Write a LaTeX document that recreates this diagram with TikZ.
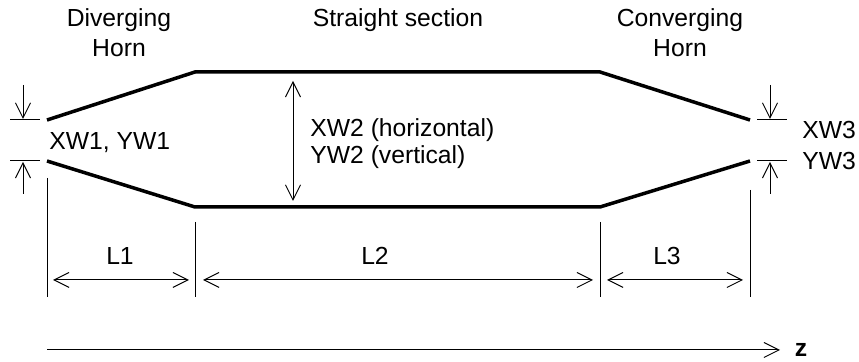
\documentclass[tikz,border=0pt]{standalone}
\usepackage{fontspec}
\setmainfont{Liberation Sans}
\usetikzlibrary{arrows.meta}
\tikzset{
  horn/.style={line width=1.75pt},
  thin/.style={line width=0.5pt},
  barb/.tip={Straight Barb[length=7.5pt,width=7.5pt]},
  dim/.style={thin, barb-barb},
  pointer/.style={thin, -barb},
  lbl/.style={inner sep=0pt, anchor=base, font=\fontsize{12.35}{14}\selectfont},
}
\begin{document}
\begin{tikzpicture}[x=0.5pt,y=-0.5pt]
    \useasboundingbox (0,0) rectangle (859,362);

    % walls of the chamber
    \coordinate (t0) at ( 47,120);
    \coordinate (t1) at (195, 72);
    \coordinate (t2) at (600, 72);
    \coordinate (t3) at (750,120);
    \coordinate (b0) at ( 47,161);
    \coordinate (b1) at (195,207);
    \coordinate (b2) at (600,207);
    \coordinate (b3) at (750,161);
    \draw[horn] (t0) -- (t1) -- (t2) -- (t3);
    \draw[horn] (b0) -- (b1) -- (b2) -- (b3);

    % section headings
    \node[lbl] (div)   at (119, 27) {Diverging};
    \node[lbl] (divb)  at (119, 57) {Horn};
    \node[lbl] (str)   at (398, 27) {Straight section};
    \node[lbl] (conv)  at (680, 27) {Converging};
    \node[lbl] (convb) at (680, 57) {Horn};

    % entrance width
    \draw[thin] (10,120) -- (40,120);
    \draw[thin] (10,161) -- (40,161);
    \coordinate (w1a) at (23, 85);
    \coordinate (w1b) at (23,194);
    \draw[pointer] (w1a) -- (23,119);
    \draw[pointer] (w1b) -- (23,162);
    \node[lbl, anchor=base west] (w1) at (49,150) {XW1, YW1};

    % straight width
    \coordinate (w2a) at (293, 81);
    \coordinate (w2b) at (293,201);
    \draw[dim] (w2a) -- (w2b);
    \node[lbl, anchor=base west] (w2)  at (310,137) {XW2 (horizontal)};
    \node[lbl, anchor=base west] (w2v) at (310,164) {YW2 (vertical)};

    % exit width
    \draw[thin] (757,120) -- (787,120);
    \draw[thin] (757,161) -- (787,161);
    \coordinate (w3a) at (770, 85);
    \coordinate (w3b) at (770,194);
    \draw[pointer] (w3a) -- (770,119);
    \draw[pointer] (w3b) -- (770,162);
    \node[lbl, anchor=base west] (w3)  at (802,139) {XW3};
    \node[lbl, anchor=base west] (w3v) at (802,170) {YW3};

    % extension lines
    \draw[thin] ( 47,178) -- ( 47,297);
    \draw[thin] (195,222) -- (195,297);
    \draw[thin] (600,222) -- (600,297);
    \draw[thin] (750,190) -- (750,297);

    % lengths
    \draw[dim] ( 53,280) -- (189,280);
    \draw[dim] (203,280) -- (593,280);
    \draw[dim] (607,280) -- (743,280);
    \node[lbl] (l1) at (120,265) {L1};
    \node[lbl] (l2) at (375,265) {L2};
    \node[lbl] (l3) at (667,265) {L3};

    % beam axis
    \coordinate (z0) at ( 47,350);
    \coordinate (z1) at (780,350);
    \draw[pointer] (z0) -- (z1);
    \node[lbl, font=\fontsize{12.35}{14}\selectfont\bfseries] (zlab) at (801,357) {z};
\end{tikzpicture}
\end{document}
